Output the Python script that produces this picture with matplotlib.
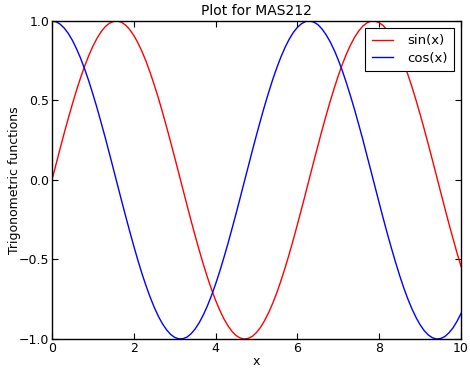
import matplotlib
matplotlib.use("Agg")
import matplotlib.pyplot as plt

# curve values, every 0.1 along x
x = [i / 10 for i in range(101)]
sin_y = [0.000, 0.100, 0.199, 0.296, 0.389, 0.479, 0.565, 0.644, 0.717, 0.783, 0.841,
         0.891, 0.932, 0.964, 0.985, 0.997, 1.000, 0.992, 0.974, 0.946, 0.909,
         0.863, 0.808, 0.746, 0.675, 0.598, 0.516, 0.427, 0.335, 0.239, 0.141,
         0.042, -0.058, -0.158, -0.256, -0.351, -0.443, -0.530, -0.612, -0.688, -0.757,
         -0.818, -0.872, -0.916, -0.952, -0.978, -0.994, -1.000, -0.996, -0.983, -0.959,
         -0.926, -0.883, -0.832, -0.773, -0.706, -0.631, -0.551, -0.465, -0.374, -0.279,
         -0.182, -0.083, 0.017, 0.117, 0.215, 0.312, 0.405, 0.494, 0.578, 0.657,
         0.729, 0.794, 0.850, 0.899, 0.938, 0.968, 0.988, 0.999, 0.999, 0.989,
         0.970, 0.941, 0.902, 0.855, 0.799, 0.734, 0.663, 0.585, 0.501, 0.412,
         0.319, 0.223, 0.125, 0.025, -0.075, -0.174, -0.272, -0.366, -0.458, -0.544]
cos_y = [1.000, 0.995, 0.980, 0.955, 0.921, 0.878, 0.825, 0.765, 0.697, 0.622, 0.540,
         0.454, 0.362, 0.268, 0.170, 0.071, -0.029, -0.129, -0.227, -0.323, -0.416,
         -0.505, -0.589, -0.666, -0.737, -0.801, -0.857, -0.904, -0.942, -0.971, -0.990,
         -0.999, -0.998, -0.988, -0.967, -0.937, -0.897, -0.848, -0.791, -0.726, -0.654,
         -0.575, -0.490, -0.401, -0.307, -0.211, -0.112, -0.012, 0.087, 0.187, 0.284,
         0.378, 0.469, 0.554, 0.635, 0.709, 0.776, 0.835, 0.886, 0.928, 0.960,
         0.983, 0.997, 1.000, 0.993, 0.977, 0.950, 0.914, 0.869, 0.816, 0.754,
         0.685, 0.608, 0.526, 0.439, 0.347, 0.253, 0.153, 0.054, -0.046, -0.146,
         -0.244, -0.340, -0.431, -0.519, -0.602, -0.679, -0.749, -0.811, -0.865, -0.911,
         -0.948, -0.975, -0.992, -1.000, -0.997, -0.985, -0.962, -0.931, -0.889, -0.839]

xticks = [0, 2, 4, 6, 8, 10]
yticks = [-1.0, -0.5, 0.0, 0.5, 1.0]
ytick_labels = ['\u22121.0', '\u22120.5', '0.0', '0.5', '1.0']

fig = plt.figure(figsize=(4.70, 3.68), dpi=100)
ax = fig.add_axes([0.1106, 0.0788, 0.8704, 0.8642])

ax.plot(x, sin_y, color='red', lw=1.0, label='sin(x)')
ax.plot(x, cos_y, color='blue', lw=1.0, label='cos(x)')

ax.set_xlim(0, 10)
ax.set_ylim(-1, 1)
ax.set_xticks(xticks)
ax.set_yticks(yticks)
ax.set_yticklabels(ytick_labels)
ax.tick_params(direction='in', length=4, width=0.8, top=True, right=True,
               labelsize=9, pad=2, colors='black')
for s in ax.spines.values():
    s.set_linewidth(1.0)

ax.set_title('Plot for MAS212', fontsize=10, pad=4)
ax.set_xlabel('x', fontsize=9, labelpad=0)
ax.set_ylabel('Trigonometric functions', fontsize=9, labelpad=-2)

leg = ax.legend(loc='upper right', fontsize=9.5, fancybox=False, framealpha=1,
                edgecolor='black', handlelength=1.6, borderpad=0.5,
                labelspacing=0.35, handletextpad=1.1, borderaxespad=0.5)
leg.get_frame().set_linewidth(0.8)

plt.savefig('out.png', dpi=100)
